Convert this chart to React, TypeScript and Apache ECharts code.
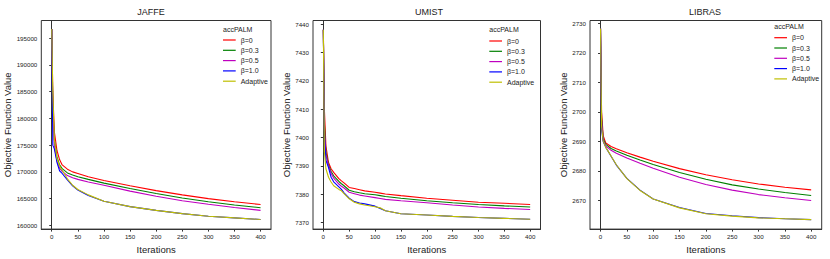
import React, { useEffect, useRef } from "react";
import * as echarts from "echarts";

// ---------- data ----------
const seriesNames = ["β=0", "β=0.3", "β=0.5", "β=1.0", "Adaptive"];
const seriesColors = ["#ff0000", "#008000", "#bf00bf", "#0000ff", "#bfbf00"];
const panelTitles = ["JAFFE", "UMIST", "LIBRAS"];
const legendTitle = "accPALM";
const xLabel = "Iterations";
const yLabel = "Objective Function Value";
const xTicks = [0, 50, 100, 150, 200, 250, 300, 350, 400];

const jaffeIter = [0, 2, 5, 10, 15, 20, 30, 40, 50, 70, 100, 150, 200, 250, 300, 350, 400];
const jaffeB0 = [196700, 185000, 177500, 174000, 172300, 171300, 170500, 170000, 169700, 169100, 168400, 167400, 166500, 165700, 165000, 164400, 163900];
const jaffeB03 = [196700, 183000, 176000, 172800, 171300, 170600, 169800, 169400, 169100, 168600, 167900, 166900, 165950, 165100, 164400, 163800, 163300];
const jaffeB05 = [196700, 182000, 175000, 172000, 170700, 170100, 169300, 168900, 168600, 168100, 167500, 166400, 165450, 164600, 163950, 163350, 162800];
const jaffeB10 = [196700, 175000, 174300, 171800, 170200, 169700, 168500, 167400, 166600, 165600, 164500, 163500, 162800, 162200, 161700, 161400, 161100];
const jaffeAd = [196700, 185000, 176000, 172500, 171100, 170300, 168700, 167500, 166700, 165700, 164500, 163500, 162800, 162200, 161700, 161400, 161100];
const jaffeYTicks = [160000, 165000, 170000, 175000, 180000, 185000, 190000, 195000];

const umistIter = [0, 2, 5, 10, 15, 20, 30, 35, 40, 50, 60, 70, 80, 100, 110, 120, 150, 200, 250, 300, 350, 400];
const umistB0 = [7438, 7410, 7397, 7391.2, 7389, 7387.7, 7385.5, 7384.7, 7384, 7382.4, 7382.0, 7381.6, 7381.2, 7380.7, 7380.4, 7380.1, 7379.5, 7378.6, 7377.9, 7377.2, 7376.8, 7376.4];
const umistB03 = [7438, 7405, 7395, 7390.4, 7388, 7386.5, 7384.5, 7383.7, 7383, 7381.4, 7380.9, 7380.5, 7380.2, 7379.8, 7379.5, 7379.2, 7378.6, 7377.7, 7377.0, 7376.4, 7375.9, 7375.5];
const umistB05 = [7438, 7403, 7394, 7390, 7387.4, 7385.7, 7383.6, 7382.8, 7382.2, 7380.7, 7380.2, 7379.7, 7379.4, 7378.8, 7378.5, 7378.2, 7377.7, 7377.0, 7376.2, 7375.5, 7375.0, 7374.6];
const umistB10 = [7438, 7400, 7392, 7389.4, 7386, 7384.4, 7382.6, 7381.7, 7380.5, 7378.6, 7377.4, 7376.9, 7376.6, 7375.8, 7375.0, 7374.2, 7373.1, 7372.7, 7372.2, 7371.8, 7371.5, 7371.2];
const umistAd = [7438, 7395, 7389, 7386, 7384.3, 7383, 7381.7, 7381.2, 7380.2, 7378.4, 7377.2, 7376.6, 7376.2, 7375.6, 7375.2, 7374.2, 7373.1, 7372.7, 7372.2, 7371.8, 7371.5, 7371.2];
const umistYTicks = [7370, 7380, 7390, 7400, 7410, 7420, 7430, 7440];

const librasIter = [0, 2, 5, 10, 20, 30, 50, 75, 100, 150, 200, 250, 300, 350, 400];
const librasB0 = [2728.3, 2700, 2692, 2689.5, 2688.3, 2687.5, 2686.2, 2684.7, 2683.3, 2680.8, 2678.7, 2677, 2675.6, 2674.5, 2673.6];
const librasB03 = [2728.3, 2698, 2691, 2689, 2687.6, 2686.8, 2685.3, 2683.7, 2682.2, 2679.5, 2677.2, 2675.3, 2673.9, 2672.7, 2671.7];
const librasB05 = [2728.3, 2697, 2690.5, 2688.5, 2687.0, 2686.0, 2684.4, 2682.6, 2680.9, 2677.9, 2675.4, 2673.5, 2672, 2670.9, 2670];
const librasB10 = [2728.3, 2694, 2690, 2688, 2685, 2682, 2677.5, 2673.5, 2670.5, 2667.6, 2665.6, 2664.8, 2664.2, 2663.8, 2663.5];
const librasAd = [2728.3, 2695, 2690.2, 2688, 2685.1, 2682.1, 2677.4, 2673.4, 2670.5, 2667.5, 2665.5, 2664.7, 2664.1, 2663.8, 2663.5];
const librasYTicks = [2670, 2680, 2690, 2700, 2710, 2720, 2730];

const panels = [
  { iter: jaffeIter, values: [jaffeB0, jaffeB03, jaffeB05, jaffeB10, jaffeAd], yTicks: jaffeYTicks, yMin: 159300, yMax: 198300 },
  { iter: umistIter, values: [umistB0, umistB03, umistB05, umistB10, umistAd], yTicks: umistYTicks, yMin: 7367.7, yMax: 7441.3 },
  { iter: librasIter, values: [librasB0, librasB03, librasB05, librasB10, librasAd], yTicks: librasYTicks, yMin: 2660.3, yMax: 2731.0 },
];

// ---------- layout ----------
const FONT = "'Liberation Sans', Arial, sans-serif";
const grids = [
  { left: 41.3, top: 20.5, width: 229.7, height: 209.2 },
  { left: 313, top: 20.5, width: 227.5, height: 209.2 },
  { left: 590, top: 20.5, width: 231.7, height: 209.2 },
];
const yNameGaps = [27, 18.5, 21];
const titlePos = [151, 429, 705];
const legendPos = [
  { left: 223, titleY: 29.3, top: 36.5 },
  { left: 489.3, titleY: 29.3, top: 37.5 },
  { left: 774.3, titleY: 26, top: 34.2 },
];

const plain = (v: number) => String(v);

export default function App() {
  const ref = useRef<HTMLDivElement>(null);
  useEffect(() => {
    if (!ref.current) return;
    const chart = echarts.init(ref.current, null, { renderer: "svg" });

    const grid = grids.map((g) => ({
      ...g,
      show: true,
      borderColor: "#333",
      borderWidth: 1,
      backgroundColor: "transparent",
      containLabel: false,
    }));

    const nameStyle = { fontSize: 9.5, color: "#222", fontFamily: FONT, fontWeight: "normal" };
    const labelStyle = { fontSize: 6.2, color: "#222", fontFamily: FONT, fontWeight: "normal" };

    const xAxis = panels.map((p, i) => ({
      type: "value",
      gridIndex: i,
      min: -20,
      max: 420,
      name: xLabel,
      nameLocation: "middle",
      nameGap: 14,
      nameTextStyle: nameStyle,
      axisLine: { show: true, lineStyle: { color: "#333", width: 1 } },
      axisTick: { show: true, length: 2.5, lineStyle: { color: "#333" }, customValues: xTicks },
      axisLabel: { ...labelStyle, margin: 4, customValues: xTicks, formatter: plain },
      splitLine: { show: false },
    }));

    const yAxis = panels.map((p, i) => ({
      type: "value",
      gridIndex: i,
      min: p.yMin,
      max: p.yMax,
      name: yLabel,
      nameLocation: "middle",
      nameGap: yNameGaps[i],
      nameTextStyle: nameStyle,
      axisLine: { show: true, lineStyle: { color: "#333", width: 1 } },
      axisTick: { show: true, length: 2.5, lineStyle: { color: "#333" }, customValues: p.yTicks },
      axisLabel: { ...labelStyle, margin: 4, customValues: p.yTicks, formatter: plain },
      splitLine: { show: false },
    }));

    const series: any[] = [];
    panels.forEach((p, i) => {
      p.values.forEach((vals, k) => {
        series.push({
          type: "line",
          name: seriesNames[k],
          xAxisIndex: i,
          yAxisIndex: i,
          data: p.iter.map((x, j) => [x, vals[j]]),
          showSymbol: false,
          symbol: "none",
          lineStyle: { color: seriesColors[k], width: 1.1 },
          itemStyle: { color: seriesColors[k] },
          z: 2 + k,
        });
      });
    });

    const legend = legendPos.map((lp) => ({
      orient: "vertical",
      left: lp.left,
      top: lp.top,
      data: seriesNames,
      selectedMode: false,
      icon: "rect",
      itemWidth: 12.7,
      itemHeight: 1.2,
      itemGap: 3.3,
      padding: 0,
      textStyle: { fontSize: 7, color: "#222", fontFamily: FONT },
    }));

    const graphic: any[] = [];
    panelTitles.forEach((t, i) => {
      graphic.push({
        type: "text",
        x: titlePos[i],
        y: 12,
        style: {
          text: t,
          textAlign: "center",
          textVerticalAlign: "middle",
          align: "center",
          verticalAlign: "middle",
          fontSize: 9,
          fontFamily: FONT,
          fill: "#222",
        },
      });
    });
    legendPos.forEach((lp) => {
      graphic.push({
        type: "text",
        x: lp.left,
        y: lp.titleY,
        style: {
          text: legendTitle,
          textAlign: "left",
          textVerticalAlign: "middle",
          align: "left",
          verticalAlign: "middle",
          fontSize: 7,
          fontFamily: FONT,
          fill: "#222",
        },
      });
    });

    chart.setOption({
      animation: false,
      backgroundColor: "#ffffff",
      grid,
      xAxis,
      yAxis,
      series,
      legend,
      graphic,
    });
    return () => chart.dispose();
  }, []);

  return (
    <div
      ref={ref}
      style={{ position: "fixed", left: 0, top: 0, width: 830, height: 259, background: "#fff" }}
    />
  );
}
